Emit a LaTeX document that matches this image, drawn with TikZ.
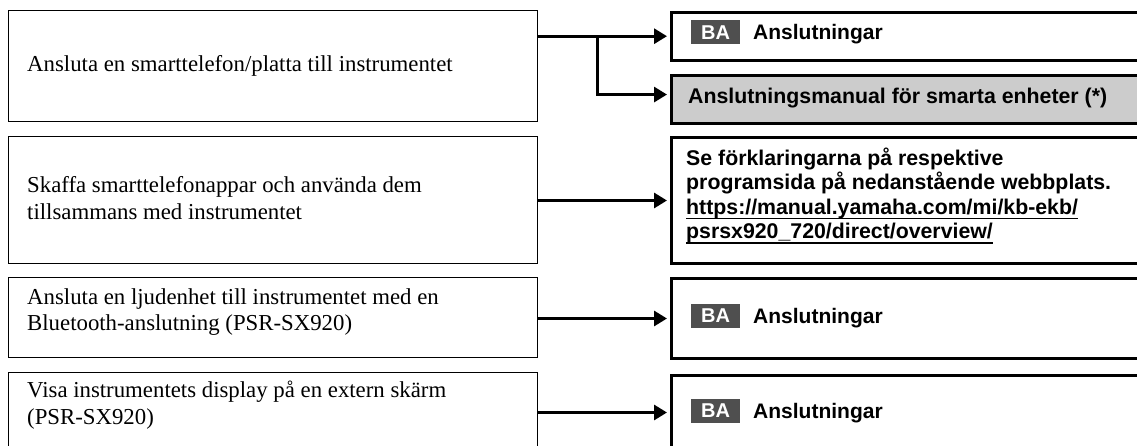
\documentclass[tikz,border=0pt]{standalone}
\usepackage{fontspec}
\setmainfont{Liberation Serif}
\setsansfont{Liberation Sans}
\usetikzlibrary{arrows.meta}
\definecolor{badgegray}{HTML}{4F4F4F}
\definecolor{boxgray}{HTML}{CCCCCC}
\newcommand\myul[1]{\setbox0\hbox{#1}\rlap{\rule[-5.2pt]{\wd0}{1.6pt}}\box0}
\begin{document}
\begin{tikzpicture}[x=1pt,y=-1pt,
  lbox/.style={draw, line width=1.2pt, inner sep=0, anchor=north west},
  rbox/.style={draw, line width=3pt, inner sep=0, anchor=north west},
  ltext/.style={anchor=west, align=left, inner sep=0, font=\fontsize{22.8}{26.5}\selectfont},
  rtext/.style={anchor=base west, inner sep=0, font=\sffamily\bfseries\fontsize{21}{23.4}\selectfont},
  rblock/.style={anchor=north west, align=left, inner sep=0, font=\sffamily\bfseries\fontsize{21.3}{24.5}\selectfont},
  badge/.style={fill=badgegray, text=white, inner sep=0, minimum width=49pt, minimum height=24pt, font=\sffamily\bfseries\fontsize{20}{20}\selectfont},
  arr/.style={line width=3pt, -{Triangle[length=13pt,width=15pt]}, shorten >=3pt}]
\useasboundingbox (0,0) rectangle (1137,446);
\clip (0,0) rectangle (1137,446);

% left boxes
\node[lbox, minimum width=529pt, minimum height=111pt] (L1) at (8,10) {};
\node[lbox, minimum width=529pt, minimum height=127pt] (L2) at (8,136) {};
\node[lbox, minimum width=529pt, minimum height=80pt] (L3) at (8,277) {};
\node[lbox, minimum width=529pt, minimum height=76pt] (L4) at (8,372) {};

\node[ltext] (t1) at (27,66) {Ansluta en smarttelefon/platta till instrumentet};
\node[ltext] (t2) at (27,198) {Skaffa smarttelefonappar och använda dem\\tillsammans med instrumentet};
\node[ltext] (t3) at (27,312) {Ansluta en ljudenhet till instrumentet med en\\Bluetooth-anslutning (PSR-SX920)};
\node[ltext] (t4) at (27,405) {Visa instrumentets display på en extern skärm\\(PSR-SX920)};

% right boxes
\node[rbox, minimum width=480pt, minimum height=48pt] (R1) at (670,10.7) {};
\node[rbox, fill=boxgray, minimum width=480pt, minimum height=47.5pt] (R2) at (670,74.3) {};
\node[rbox, minimum width=480pt, minimum height=126pt] (R3) at (670,136) {};
\node[rbox, minimum width=480pt, minimum height=80.6pt] (R4) at (670,276.7) {};
\node[rbox, minimum width=480pt, minimum height=74pt] (R5) at (670,374) {};

\node[badge] (b1) at (715.5,32.2) {BA};
\node[rtext] (r1) at (753,40) {Anslutningar};
\node[rtext, font=\sffamily\bfseries\fontsize{21.3}{23.4}\selectfont] (r2) at (688,103.3) {Anslutningsmanual för smarta enheter (*)};
\node[rblock] (r3) at (686,147.5) {Se förklaringarna på respektive\\programsida på nedanstående webbplats.\\\myul{https://manual.yamaha.com/mi/kb-ekb/}\\\myul{psrsx920\_720/direct/overview/}};
\node[badge] (b4) at (715.5,316) {BA};
\node[rtext] (r4) at (753,323.8) {Anslutningar};
\node[badge] (b5) at (715.5,411) {BA};
\node[rtext] (r5) at (753,418.8) {Anslutningar};

% connectors
\coordinate (br) at (597,0);
\draw[arr] (L1.east |- R1.west) -- (R1.west);
\draw[arr] (br |- R1.west) |- ([yshift=5pt]R2.west);
\draw[arr] (L2.east |- R3.west) -- (R3.west);
\draw[arr] (L3.east |- R4.west) -- (R4.west);
\draw[arr] (L4.east |- R5.west) -- (R5.west);
\end{tikzpicture}
\end{document}
